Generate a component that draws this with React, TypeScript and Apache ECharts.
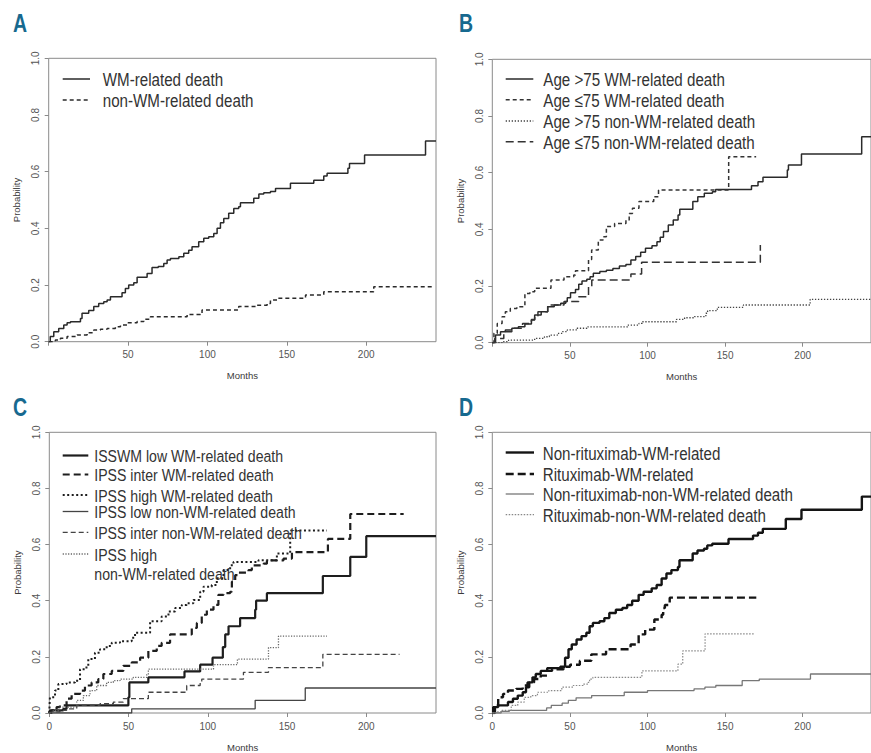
import React, { useEffect, useRef } from "react";
import * as echarts from "echarts";

// ---------- data (months, cumulative probability) ----------
const xTicks = [0, 50, 100, 150, 200];
const yTicks = [0, 0.2, 0.4, 0.6, 0.8, 1.0];

const A_WM = [[0,0],[1,0.018],[3.2,0.035],[6.3,0.047],[9.5,0.059],[11.6,0.067],[13.7,0.07],[20,0.082],[21,0.1],[25.2,0.11],[28.4,0.124],[31.5,0.135],[34.7,0.141],[36.8,0.147],[38.9,0.159],[46.2,0.173],[48.3,0.188],[50.4,0.2],[53.6,0.208],[55.7,0.227],[62,0.241],[65.1,0.262],[69,0.265],[72.5,0.276],[74.6,0.288],[76.7,0.294],[82,0.3],[85.1,0.312],[88.2,0.323],[90.3,0.335],[94.5,0.353],[97.7,0.365],[100.8,0.37],[104,0.382],[106.1,0.4],[108.2,0.42],[110.3,0.435],[113.4,0.453],[116.6,0.47],[119.7,0.476],[120.8,0.49],[129.2,0.506],[132.4,0.521],[135.5,0.526],[139.7,0.53],[142.9,0.541],[152.3,0.559],[167,0.57],[173.3,0.585],[175.4,0.594],[188.5,0.612],[189.5,0.629],[199,0.659],[237.4,0.708],[244,0.708]];
const A_nonWM = [[0,0],[4.2,0.006],[7.4,0.012],[11.6,0.018],[17.9,0.024],[24.2,0.032],[28.4,0.041],[32.6,0.044],[36.8,0.047],[42,0.053],[45.2,0.059],[49.4,0.067],[55.7,0.071],[59.9,0.079],[64.1,0.088],[87.2,0.096],[95.6,0.1],[96.6,0.112],[119.7,0.124],[131.3,0.129],[137.6,0.135],[139.7,0.147],[143.9,0.153],[161.8,0.165],[173.3,0.176],[204.8,0.194],[242.6,0.194]];

const B_old_WM = [[0,0],[2.1,0.027],[5.3,0.039],[8.4,0.045],[12.6,0.051],[16.8,0.056],[21,0.066],[25.2,0.08],[27.3,0.098],[31.5,0.109],[35.7,0.127],[39.9,0.133],[44.1,0.139],[47.3,0.145],[48.3,0.159],[50.4,0.176],[53.6,0.188],[55.7,0.206],[57.8,0.218],[60.9,0.224],[63,0.233],[65.1,0.245],[69.3,0.251],[73.5,0.256],[77.7,0.262],[81.9,0.271],[86.1,0.276],[89.3,0.292],[92.4,0.304],[95.6,0.319],[98.7,0.333],[102.9,0.342],[106.1,0.356],[108.2,0.372],[110.3,0.392],[113.4,0.415],[116.6,0.433],[119.7,0.451],[120.8,0.471],[129.2,0.498],[132.4,0.515],[136.6,0.527],[141.8,0.533],[143.9,0.541],[167,0.554],[171.2,0.568],[174.4,0.584],[190.1,0.609],[190.8,0.627],[199.2,0.666],[238,0.727],[244,0.727]];
const B_young_WM = [[0,0],[1.05,0.033],[3.2,0.068],[6.3,0.092],[8.4,0.109],[11.6,0.121],[15.8,0.127],[21,0.174],[24.2,0.18],[27.3,0.192],[37.8,0.221],[46.2,0.233],[52.5,0.239],[53.6,0.254],[62,0.294],[64,0.327],[68.3,0.362],[71.4,0.374],[73.5,0.41],[78.8,0.421],[86.1,0.433],[88.2,0.456],[90.3,0.474],[94.5,0.498],[104,0.515],[107.1,0.539],[152.3,0.656],[170,0.656]];
const B_old_nonWM = [[0,0],[6.3,0.004],[10.5,0.009],[27.3,0.015],[33.6,0.021],[36.8,0.027],[42,0.033],[45.2,0.039],[48.3,0.045],[54.6,0.051],[60.9,0.056],[87.2,0.062],[94.5,0.068],[96.6,0.074],[118.7,0.082],[123.9,0.088],[130.3,0.092],[137.6,0.104],[138.7,0.113],[145,0.125],[161.8,0.133],[204.8,0.153],[244,0.153]];
const B_young_nonWM = [[0,0],[1.5,0.015],[7.4,0.039],[12.6,0.051],[19.5,0.068],[25.2,0.082],[27.3,0.094],[29.4,0.109],[35.7,0.133],[46.2,0.145],[55.7,0.162],[62,0.198],[64.1,0.221],[89.3,0.242],[96.2,0.284],[172.7,0.345]];

const C_low_WM = [[0,0],[0.4,0.009],[8.8,0.015],[10.9,0.027],[49.9,0.056],[50.5,0.109],[62.5,0.127],[85.3,0.148],[95.2,0.172],[103,0.197],[109.5,0.235],[111,0.28],[113.1,0.309],[120.4,0.338],[129.9,0.368],[130.5,0.4],[137.3,0.427],[172.6,0.488],[189.9,0.556],[200,0.63],[244,0.63]];
const C_inter_WM = [[0,0],[1.5,0.009],[4.6,0.021],[6.7,0.027],[10.9,0.051],[14.1,0.068],[19.4,0.08],[22.5,0.098],[26.7,0.109],[30.9,0.121],[34.1,0.139],[39.4,0.15],[46.7,0.168],[52,0.18],[57.3,0.197],[62.5,0.221],[67.8,0.239],[70.9,0.25],[76.2,0.28],[89.9,0.303],[93.1,0.321],[96.2,0.35],[99.4,0.368],[103.6,0.385],[106.7,0.421],[109.9,0.427],[114.1,0.432],[115.2,0.468],[117.3,0.491],[119.4,0.5],[125.7,0.509],[127.8,0.526],[135.2,0.532],[137.3,0.544],[147.8,0.55],[153.1,0.573],[175.8,0.62],[189.9,0.709],[223.6,0.709]];
const C_high_WM = [[0,0],[0.4,0.056],[3.6,0.08],[5.7,0.103],[10.9,0.109],[16.2,0.115],[19.4,0.156],[22.5,0.162],[24.6,0.192],[28.8,0.215],[32,0.227],[36.2,0.239],[39.4,0.25],[44.6,0.256],[52,0.268],[54.1,0.286],[63.6,0.327],[70.9,0.344],[75.2,0.362],[79.4,0.374],[83.6,0.385],[86.7,0.391],[90.9,0.403],[95.2,0.432],[97.3,0.45],[102.5,0.456],[105.7,0.48],[109.9,0.509],[114.1,0.526],[116.2,0.538],[132,0.544],[143.6,0.568],[152,0.65],[175.2,0.65]];
const C_low_nonWM = [[0,0],[52,0.015],[129.9,0.045],[161.5,0.089],[244,0.089]];
const C_inter_nonWM = [[0,0],[1.5,0.004],[6.7,0.009],[10.9,0.015],[17.3,0.027],[32,0.033],[40.4,0.039],[46.7,0.051],[62.5,0.074],[86.7,0.098],[95.2,0.109],[96.2,0.121],[122.5,0.145],[138.3,0.162],[172.6,0.209],[221,0.209]];
const C_high_nonWM = [[0,0],[2.5,0.009],[6.7,0.021],[17.3,0.045],[21.5,0.062],[25.7,0.08],[29.9,0.098],[36.2,0.109],[40.4,0.115],[44.6,0.121],[53,0.127],[61.5,0.139],[62.5,0.156],[103.6,0.172],[118.7,0.192],[138.3,0.233],[144.6,0.274],[175.2,0.274]];

const D_nonR_WM = [[0,0],[0.6,0.021],[3.8,0.027],[10.1,0.039],[13.3,0.051],[16.4,0.062],[19.6,0.074],[21.7,0.092],[23.8,0.109],[25.9,0.127],[28,0.139],[31.2,0.15],[35.4,0.16],[43.8,0.165],[46.9,0.197],[49.1,0.227],[51.2,0.244],[54.3,0.262],[57.5,0.274],[60.6,0.286],[62.7,0.309],[64.8,0.321],[69.1,0.327],[72.2,0.338],[75.4,0.356],[79.6,0.368],[83.8,0.374],[86.9,0.385],[90.1,0.4],[94.3,0.421],[97.5,0.432],[102.7,0.444],[105.9,0.456],[109.1,0.479],[112.2,0.497],[115.4,0.509],[119.6,0.52],[120.6,0.544],[129.1,0.568],[132.2,0.579],[136.4,0.585],[138.5,0.597],[141.7,0.603],[152.2,0.62],[168,0.632],[171.2,0.642],[174.3,0.656],[189.1,0.691],[199.2,0.724],[238.1,0.771],[244,0.771]];
const D_R_WM = [[0,0],[1.7,0.027],[3.8,0.056],[6.9,0.068],[10.1,0.08],[15.4,0.086],[19.6,0.098],[22.7,0.109],[26.9,0.121],[31.2,0.133],[35.4,0.15],[38.5,0.156],[45.9,0.165],[50.1,0.172],[56.4,0.186],[63.8,0.209],[73.3,0.227],[89.1,0.244],[94.3,0.28],[98.5,0.297],[104.4,0.333],[109.1,0.35],[110.1,0.374],[111.2,0.385],[114.3,0.411],[170.1,0.411]];
const D_nonR_nonWM = [[0,0],[5.7,0.006],[11,0.009],[35,0.018],[38,0.027],[45,0.035],[49,0.045],[54,0.054],[64,0.062],[85,0.074],[100,0.08],[130,0.086],[137,0.092],[144,0.098],[161,0.115],[172,0.121],[205,0.139],[244,0.139]];
const D_R_nonWM = [[0,0],[2.7,0.004],[5.9,0.009],[12.2,0.027],[16.4,0.039],[20.6,0.056],[24.8,0.062],[29.1,0.074],[36.4,0.08],[44.8,0.092],[52.2,0.098],[58.5,0.103],[61.7,0.109],[62.7,0.121],[64.8,0.127],[96.4,0.15],[119.6,0.174],[122.7,0.221],[137.1,0.282],[169,0.282]];

// ---------- styles ----------
const SANS = "'Liberation Sans', Arial, sans-serif";
const NARROW_SCALE = 0.82;
const LETTER_COLOR = "#17698f";

type S = { name: string; data: number[][]; color: string; width: number; dash: number[] | null };

const panels = [
  {
    letter: "A", letterPos: [13, 24],
    grid: { left: 48.7, top: 58.3, width: 387.3, height: 283.4 },
    showZero: false,
    legend: { x1: 62.7, x2: 90, tx: 102.7, ys: [80, 101], fontSize: 18.5, lh: 21 },
    series: [
      { name: "WM-related death", data: A_WM, color: "#2a2a2a", width: 1.5, dash: null },
      { name: "non-WM-related death", data: A_nonWM, color: "#2a2a2a", width: 1.5, dash: [4, 3] },
    ] as S[],
  },
  {
    letter: "B", letterPos: [459, 24],
    grid: { left: 492.3, top: 59.3, width: 387.3, height: 283.4 },
    showZero: false,
    legend: { x1: 505.7, x2: 533.3, tx: 543.3, ys: [80, 100.7, 122, 142.7], fontSize: 18.5, lh: 21 },
    series: [
      { name: "Age >75 WM-related death", data: B_old_WM, color: "#2a2a2a", width: 1.5, dash: null },
      { name: "Age ≤75 WM-related death", data: B_young_WM, color: "#333", width: 1.5, dash: [4, 3] },
      { name: "Age >75 non-WM-related death", data: B_old_nonWM, color: "#444", width: 1.3, dash: [1.3, 1.7] },
      { name: "Age ≤75 non-WM-related death", data: B_young_nonWM, color: "#333", width: 1.5, dash: [8, 4] },
    ] as S[],
  },
  {
    letter: "C", letterPos: [13, 408],
    grid: { left: 49.3, top: 432.3, width: 386.7, height: 283.7 },
    showZero: true,
    legend: { x1: 62.7, x2: 88.3, tx: 94.3, ys: [456.5, 475.5, 496, 512.5, 533.3, 555], fontSize: 17.2, lh: 19 },
    series: [
      { name: "ISSWM low WM-related death", data: C_low_WM, color: "#1e1e1e", width: 2.2, dash: null },
      { name: "IPSS inter WM-related death", data: C_inter_WM, color: "#1e1e1e", width: 2.2, dash: [7, 4] },
      { name: "IPSS high WM-related death", data: C_high_WM, color: "#1e1e1e", width: 2, dash: [2, 2.5] },
      { name: "IPSS low non-WM-related death", data: C_low_nonWM, color: "#444", width: 1.3, dash: null },
      { name: "IPSS inter non-WM-related death", data: C_inter_nonWM, color: "#444", width: 1.3, dash: [5, 3] },
      { name: "IPSS high\nnon-WM-related death", data: C_high_nonWM, color: "#666", width: 1.3, dash: [1.2, 1.5] },
    ] as S[],
  },
  {
    letter: "D", letterPos: [459, 408],
    grid: { left: 492.3, top: 432.3, width: 387, height: 283.7 },
    showZero: true,
    legend: { x1: 505.7, x2: 534, tx: 542.7, ys: [453.5, 475, 495, 515.7], fontSize: 18.5, lh: 21 },
    series: [
      { name: "Non-rituximab-WM-related", data: D_nonR_WM, color: "#141414", width: 2.4, dash: null },
      { name: "Rituximab-WM-related", data: D_R_WM, color: "#141414", width: 2.4, dash: [8, 4] },
      { name: "Non-rituximab-non-WM-related death", data: D_nonR_nonWM, color: "#777", width: 1.3, dash: null },
      { name: "Rituximab-non-WM-related death", data: D_R_nonWM, color: "#888", width: 1.2, dash: [1.5, 1.5] },
    ] as S[],
  },
];

function buildOption() {
  const grid: any[] = [];
  const xAxis: any[] = [];
  const yAxis: any[] = [];
  const series: any[] = [];
  const graphic: any[] = [];

  panels.forEach((p, i) => {
    grid.push({ ...p.grid, show: true, borderColor: "#8a8a8a", borderWidth: 1, backgroundColor: "transparent", containLabel: false });
    xAxis.push({
      type: "value", gridIndex: i, min: 0, max: 244, interval: 50,
      name: "Months", nameLocation: "middle", nameGap: 29,
      nameTextStyle: { fontSize: 9.5, color: "#3a3a3a", fontFamily: SANS },
      axisLine: { show: false },
      axisTick: { show: true, length: 4, lineStyle: { color: "#8a8a8a" }, customValues: xTicks },
      axisLabel: {
        fontSize: 10, color: "#555", fontFamily: SANS, margin: 8,
        customValues: p.showZero ? xTicks : xTicks.slice(1),
      },
      splitLine: { show: false },
    });
    yAxis.push({
      type: "value", gridIndex: i, min: 0, max: 1, interval: 0.2,
      name: "Probability", nameLocation: "middle", nameGap: 27,
      nameTextStyle: { fontSize: 9.5, color: "#3a3a3a", fontFamily: SANS },
      axisLine: { show: false },
      axisTick: { show: true, length: 4, lineStyle: { color: "#8a8a8a" }, customValues: yTicks },
      axisLabel: {
        fontSize: 10, color: "#555", fontFamily: SANS, rotate: 90, margin: 8,
        customValues: yTicks,
        formatter: (v: number) => v.toFixed(1),
      },
      splitLine: { show: false },
    });
    p.series.forEach((s) => {
      series.push({
        type: "line", name: s.name, xAxisIndex: i, yAxisIndex: i,
        data: s.data, step: "end", showSymbol: false, symbol: "none",
        lineStyle: { color: s.color, width: s.width, type: s.dash ? s.dash : "solid", cap: "butt" },
        itemStyle: { color: s.color },
        silent: true, z: 3,
      });
    });
    p.series.forEach((s, k) => {
      const y = p.legend.ys[k];
      graphic.push({
        type: "line", silent: true, z: 10,
        shape: { x1: p.legend.x1, y1: y - 1, x2: p.legend.x2, y2: y - 1 },
        style: { stroke: s.color, lineWidth: s.width, lineDash: s.dash ? s.dash : null },
      });
      graphic.push({
        type: "text", silent: true, z: 10, x: p.legend.tx, y: y - p.legend.lh / 2, scaleX: NARROW_SCALE,
        style: {
          text: s.name, fontSize: p.legend.fontSize, fontFamily: SANS, fill: "#333",
          verticalAlign: "top", lineHeight: p.legend.lh,
        },
      });
    });
    graphic.push({
      type: "text", silent: true, z: 10, x: p.letterPos[0], y: p.letterPos[1], scaleX: 0.78,
      style: { text: p.letter, fontSize: 25, fontWeight: "bold", fontFamily: SANS, fill: LETTER_COLOR, verticalAlign: "middle" },
    });
  });

  return { animation: false, backgroundColor: "#fff", grid, xAxis, yAxis, series, graphic };
}

export default function App() {
  const ref = useRef<HTMLDivElement>(null);
  useEffect(() => {
    if (!ref.current) return;
    const chart = echarts.init(ref.current, undefined, { renderer: "svg" });
    chart.setOption(buildOption() as any);
    return () => chart.dispose();
  }, []);
  return (
    <div
      ref={ref}
      style={{ position: "absolute", left: 0, top: 0, width: 871, height: 753, background: "#fff" }}
    />
  );
}
